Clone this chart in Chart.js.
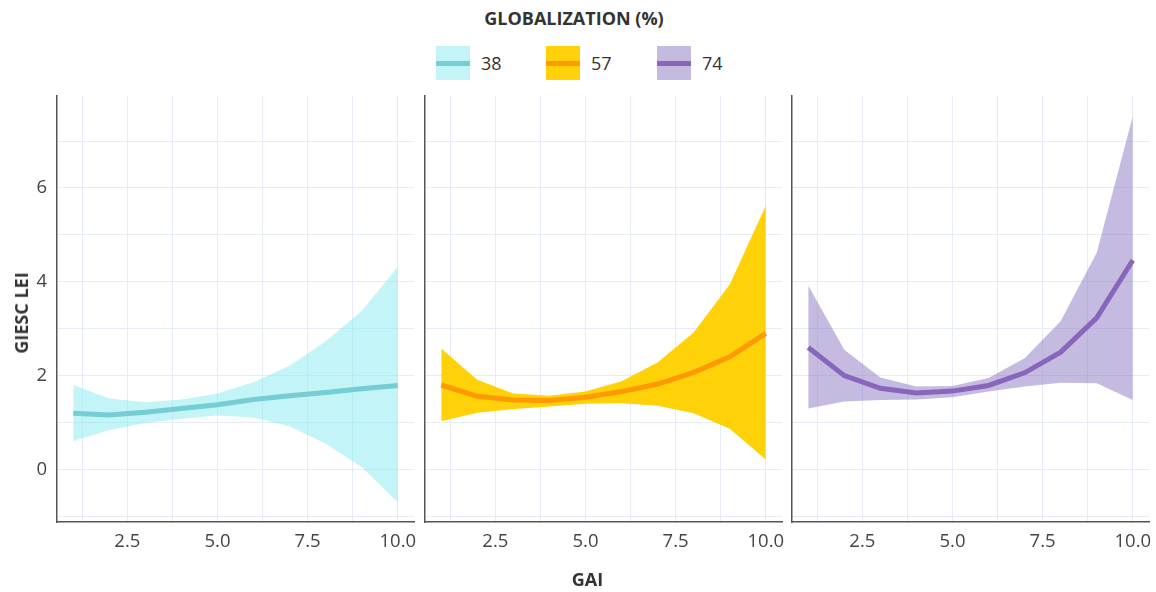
<!DOCTYPE html>
<html>
<head>
<meta charset="utf-8">
<script src="https://cdn.jsdelivr.net/npm/chart.js@4.4.0/dist/chart.umd.min.js"></script>
<style>
  body { margin: 0; background: #fff; font-family: "Open Sans", sans-serif; color: #444; }
  #wrap { position: relative; width: 1156px; height: 592px; overflow: hidden; }
  .panel { position: absolute; top: 0; height: 592px; }
  .titulo { position: absolute; font-weight: bold; font-size: 18px; color: #333; white-space: nowrap; }
  .leg-item { position: absolute; top: 46px; height: 34px; display: flex; align-items: center; font-size: 18px; color: #333; }
  .leg-box { width: 34px; height: 34px; position: relative; margin-right: 11px; }
  .leg-box span { position: absolute; left: 0; right: 0; top: 15px; height: 5px; }
</style>
</head>
<body>
<div id="wrap">
  <div class="titulo" style="left:0;width:1148px;top:6px;text-align:center;">GLOBALIZATION (%)</div>
  <div id="leyenda"></div>
  <div class="panel" style="left:0;width:420px;"><canvas id="p1"></canvas></div>
  <div class="panel" style="left:420px;width:368px;"><canvas id="p2"></canvas></div>
  <div class="panel" style="left:788px;width:368px;"><canvas id="p3"></canvas></div>
  <div class="titulo" style="left:560px;width:55px;top:567px;text-align:center;">GAI</div>
  <div class="titulo" style="left:21px;top:313px;transform:translate(-50%,-50%) rotate(-90deg);">GIESC LEI</div>
</div>
<script>
// Datos
const gai = [1, 2, 3, 4, 5, 6, 7, 8, 9, 10];
const grupos = ['38', '57', '74'];

const media38 = [1.20, 1.16, 1.22, 1.30, 1.38, 1.49, 1.57, 1.64, 1.72, 1.79];
const sup38 = [1.80, 1.51, 1.43, 1.49, 1.62, 1.86, 2.21, 2.73, 3.38, 4.32];
const inf38 = [0.60, 0.84, 0.99, 1.08, 1.15, 1.11, 0.92, 0.55, 0.05, -0.70];

const media57 = [1.80, 1.56, 1.48, 1.47, 1.54, 1.66, 1.82, 2.07, 2.40, 2.90];
const sup57 = [2.58, 1.91, 1.62, 1.57, 1.66, 1.88, 2.28, 2.92, 3.94, 5.62];
const inf57 = [1.03, 1.21, 1.29, 1.34, 1.40, 1.41, 1.36, 1.20, 0.87, 0.21];

const media74 = [2.60, 2.00, 1.73, 1.63, 1.67, 1.79, 2.06, 2.50, 3.23, 4.46];
const sup74 = [3.92, 2.55, 1.96, 1.77, 1.78, 1.95, 2.37, 3.16, 4.62, 7.53];
const inf74 = [1.30, 1.45, 1.48, 1.49, 1.54, 1.66, 1.77, 1.85, 1.84, 1.48];

const colLinea = ['#76cdd3', '#ff9900', '#8766bb'];
const colBanda = ['rgba(135,235,242,0.5)', 'rgba(255,207,0,0.97)', 'rgba(140,120,195,0.5)'];

// Leyenda en HTML
const posLeyenda = [436, 546, 657];
const leyenda = document.getElementById('leyenda');
grupos.forEach((g, i) => {
    const d = document.createElement('div');
    d.className = 'leg-item';
    d.style.left = posLeyenda[i] + 'px';
    d.innerHTML = `<div class="leg-box" style="background:${colBanda[i]}"><span style="background:${colLinea[i]}"></span></div>${g}`;
    leyenda.appendChild(d);
});

function puntos(arr) {
    return gai.map((x, i) => ({ x: x, y: arr[i] }));
}

function crearPanel(id, media, sup, inf, i, anchoEjeY, padDer) {
    const primero = i === 0;
    new Chart(document.getElementById(id), {
        type: 'line',
        data: {
            datasets: [{
                data: puntos(media),
                borderColor: colLinea[i],
                borderWidth: 5,
                pointRadius: 0,
                tension: 0,
                fill: false
            },
            {
                data: puntos(sup),
                borderWidth: 0,
                pointRadius: 0,
                backgroundColor: colBanda[i],
                fill: '+1'
            },
            {
                data: puntos(inf),
                borderWidth: 0,
                pointRadius: 0,
                fill: false
            }]
        },
        options: {
            responsive: false,
            animation: false,
            events: [],
            layout: { padding: { top: 96, right: padDer, bottom: 0, left: 0 } },
            plugins: { legend: { display: false }, tooltip: { enabled: false } },
            scales: {
                x: {
                    type: 'linear',
                    min: 0.55,
                    max: 10.45,
                    grid: { color: '#e6ebf5', lineWidth: 1, drawTicks: false },
                    border: { display: true, color: '#555', width: 1.5 },
                    ticks: {
                        stepSize: 1.25,
                        includeBounds: false,
                        autoSkip: false,
                        maxRotation: 0,
                        padding: 9,
                        color: '#444',
                        font: { family: 'Open Sans', size: 18.5 },
                        callback: v => Math.abs(v / 2.5 - Math.round(v / 2.5)) < 1e-6 ? v.toFixed(1) : ''
                    },
                    afterFit: s => { s.height = 70; s.paddingLeft = 0; s.paddingRight = 0; }
                },
                y: {
                    min: -1.12,
                    max: 7.96,
                    grid: { color: '#e6ebf5', lineWidth: 1, drawTicks: false },
                    border: { display: true, color: '#555', width: 1.5 },
                    ticks: {
                        display: primero,
                        stepSize: 1,
                        includeBounds: false,
                        autoSkip: false,
                        padding: 10,
                        color: '#444',
                        font: { family: 'Open Sans', size: 18.5 },
                        callback: v => (v >= 0 && v % 2 === 0) ? String(v) : ''
                    },
                    afterFit: s => { s.width = anchoEjeY; s.paddingTop = 0; s.paddingBottom = 0; }
                }
            }
        }
    });
}

function preparar(id, w) {
    const c = document.getElementById(id);
    c.width = w;
    c.height = 592;
    c.style.width = w + 'px';
    c.style.height = '592px';
}
preparar('p1', 420);
preparar('p2', 368);
preparar('p3', 368);

crearPanel('p1', media38, sup38, inf38, 0, 57, 6);
crearPanel('p2', media57, sup57, inf57, 1, 5, 6);
crearPanel('p3', media74, sup74, inf74, 2, 4, 7);
</script>
</body>
</html>
